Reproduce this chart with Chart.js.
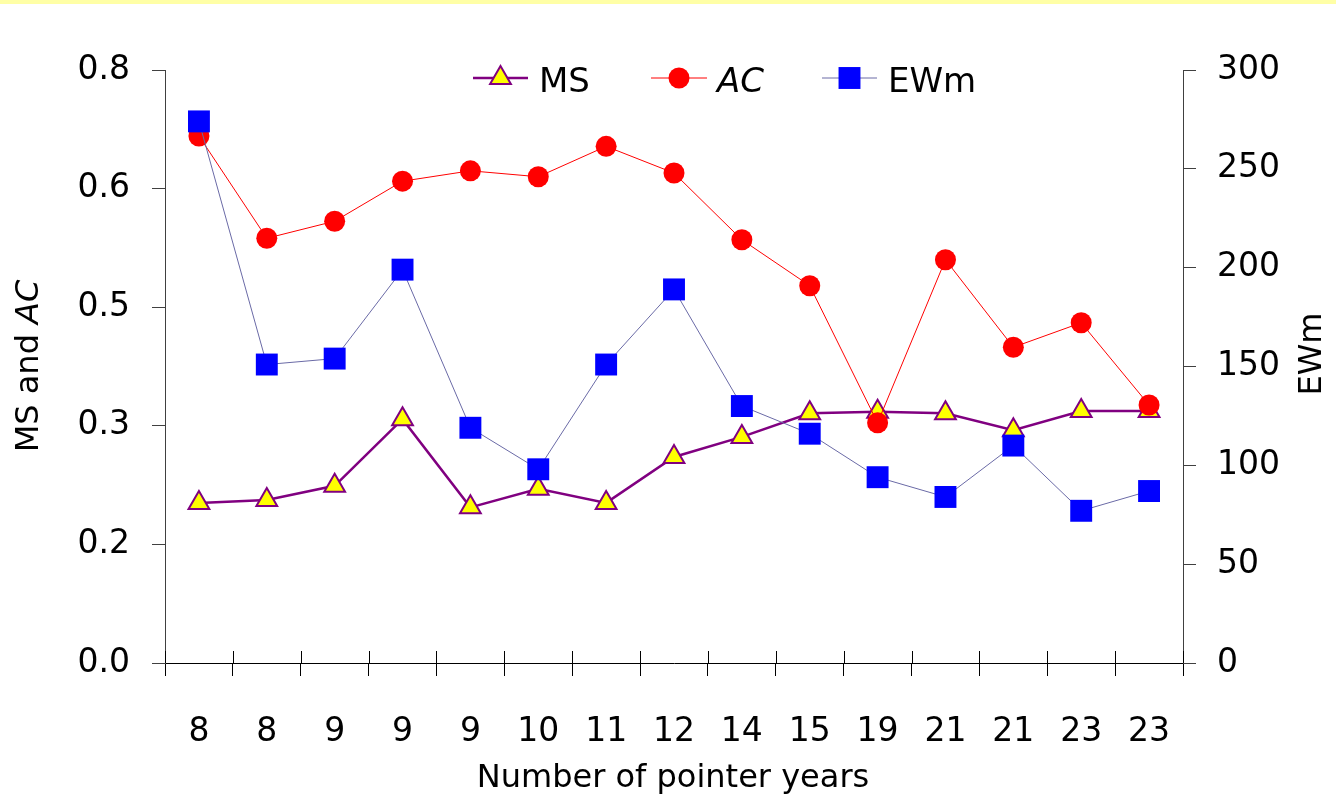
<!DOCTYPE html>
<html>
<head>
<meta charset="utf-8">
<script src="https://cdn.jsdelivr.net/npm/chart.js@4.4.1/dist/chart.umd.min.js"></script>
<style>
    html, body { margin: 0; padding: 0; background: #ffffff; }
    #wrap { position: relative; width: 1336px; height: 802px; }
    #topStrip { position: absolute; left: 0; top: 0; width: 1336px; height: 4px; background: #ffffa6; }
</style>
</head>
<body>
<div id="wrap">
    <canvas id="pointerChart" width="1336" height="802"></canvas>
    <div id="topStrip"></div>
</div>
<script>
// 資料
const categories = ['8', '8', '9', '9', '9', '10', '11', '12', '14', '15', '19', '21', '21', '23', '23'];
const msValues = [0.216, 0.220, 0.239, 0.329, 0.210, 0.235, 0.216, 0.278, 0.305, 0.337, 0.339, 0.337, 0.314, 0.340, 0.340];
const acValues = [0.711, 0.573, 0.596, 0.650, 0.664, 0.656, 0.697, 0.661, 0.571, 0.509, 0.324, 0.544, 0.426, 0.459, 0.348];
const ewmValues = [274, 151, 154, 199, 119, 98, 151, 189, 130, 116, 94, 84, 110, 77, 87];

const leftAxisMin = 0;
const leftAxisMax = 0.8;
const leftAxisStep = 0.16;
const rightAxisMin = 0;
const rightAxisMax = 300;
const rightAxisStep = 50;

const FONT = "'DejaVu Sans', sans-serif";

const seriesStyles = [
    { label: 'MS', italic: false, line: '#800080', lineWidth: 2.5, pointStyle: 'triangle', radius: 12, fill: '#ffff00', border: '#800080', borderWidth: 2 },
    { label: 'AC', italic: true, line: '#ff0000', lineWidth: 1, pointStyle: 'circle', radius: 10.5, fill: '#ff0000', border: '#ff0000', borderWidth: 0 },
    { label: 'EWm', italic: false, line: '#6a6aa6', lineWidth: 1, pointStyle: 'rect', radius: 15.5, fill: '#0000ff', border: '#0000ff', borderWidth: 0 }
];

// 自訂圖例 + 軸標題 + x 軸內側刻度
const decorPlugin = {
    id: 'decor',
    afterDraw(chart) {
        const ctx = chart.ctx;
        const xScale = chart.scales.x;

        // x 軸刻度向上穿過軸線的部分
        ctx.save();
        ctx.strokeStyle = '#000000';
        ctx.lineWidth = 1;
        for (let i = 0; i <= categories.length; i++) {
            const px = Math.round(xScale.getPixelForValue(i - 0.5)) + 0.5;
            ctx.beginPath();
            ctx.moveTo(px, xScale.top);
            ctx.lineTo(px, xScale.top - 12);
            ctx.stroke();
        }
        ctx.restore();

        // 圖例
        const legendPos = [
            { x1: 473, x2: 528, text: 539 },
            { x1: 651, x2: 707, text: 717 },
            { x1: 822, x2: 877, text: 888 }
        ];
        const ly = 78;
        seriesStyles.forEach((s, i) => {
            const p = legendPos[i];
            ctx.save();
            ctx.strokeStyle = s.line;
            ctx.lineWidth = s.lineWidth;
            ctx.beginPath();
            ctx.moveTo(p.x1, ly);
            ctx.lineTo(p.x2, ly);
            ctx.stroke();
            ctx.fillStyle = s.fill;
            ctx.strokeStyle = s.border;
            ctx.lineWidth = s.borderWidth;
            Chart.helpers.drawPoint(ctx, { pointStyle: s.pointStyle, radius: s.radius, rotation: 0, borderWidth: s.borderWidth }, (p.x1 + p.x2) / 2, ly);
            ctx.fillStyle = '#000000';
            ctx.font = (s.italic ? 'italic ' : '') + '34px ' + FONT;
            ctx.textBaseline = 'alphabetic';
            ctx.textAlign = 'left';
            ctx.fillText(s.label, p.text, 92);
            ctx.restore();
        });

        // 左軸標題 "MS and AC"（AC 斜體）
        ctx.save();
        ctx.translate(30, 366);
        ctx.rotate(-Math.PI / 2);
        ctx.fillStyle = '#000000';
        ctx.textBaseline = 'middle';
        ctx.textAlign = 'left';
        const normalFont = '32px ' + FONT;
        const italicFont = 'italic 32px ' + FONT;
        ctx.font = normalFont;
        const w1 = ctx.measureText('MS and ').width;
        ctx.font = italicFont;
        const w2 = ctx.measureText('AC').width;
        const startX = -(w1 + w2) / 2;
        ctx.font = normalFont;
        ctx.fillText('MS and ', startX, 0);
        ctx.font = italicFont;
        ctx.fillText('AC', startX + w1, 0);
        ctx.restore();

        // 右軸標題 "EWm"
        ctx.save();
        ctx.translate(1313, 354);
        ctx.rotate(-Math.PI / 2);
        ctx.fillStyle = '#000000';
        ctx.font = '32px ' + FONT;
        ctx.textBaseline = 'middle';
        ctx.textAlign = 'center';
        ctx.fillText('EWm', 0, 0);
        ctx.restore();

        // x 軸標題
        ctx.save();
        ctx.fillStyle = '#000000';
        ctx.font = '32px ' + FONT;
        ctx.textBaseline = 'middle';
        ctx.textAlign = 'center';
        ctx.fillText('Number of pointer years', 673, 779);
        ctx.restore();
    }
};

function makeDataset(style, data, axis, order) {
    return {
        label: style.label,
        data: data,
        yAxisID: axis,
        order: order,
        borderColor: style.line,
        borderWidth: style.lineWidth,
        backgroundColor: style.fill,
        pointStyle: style.pointStyle,
        pointRadius: style.radius,
        pointHoverRadius: style.radius,
        pointBackgroundColor: style.fill,
        pointBorderColor: style.border,
        pointBorderWidth: style.borderWidth,
        tension: 0,
        fill: false,
        clip: false
    };
}

const ctx = document.getElementById('pointerChart');
new Chart(ctx, {
    type: 'line',
    data: {
        labels: categories,
        datasets: [
            makeDataset(seriesStyles[0], msValues, 'y', 3),
            makeDataset(seriesStyles[1], acValues, 'y', 2),
            makeDataset(seriesStyles[2], ewmValues, 'y1', 1)
        ]
    },
    options: {
        responsive: false,
        animation: false,
        layout: { padding: { top: 70, left: 0, right: 0, bottom: 0 } },
        plugins: {
            legend: { display: false },
            tooltip: { enabled: false }
        },
        scales: {
            x: {
                type: 'category',
                offset: true,
                grid: { offset: true, drawOnChartArea: false, tickLength: 13, color: '#000000', lineWidth: 1 },
                border: { color: '#000000', width: 1 },
                ticks: { color: '#000000', font: { family: FONT, size: 33 }, padding: 37, maxRotation: 0, autoSkip: false },
                afterFit: scale => { scale.height = 139; }
            },
            y: {
                position: 'left',
                min: leftAxisMin,
                max: leftAxisMax,
                grid: { drawOnChartArea: false, tickLength: 13, color: '#404040' },
                border: { color: '#404040', width: 1 },
                ticks: {
                    stepSize: leftAxisStep,
                    color: '#000000',
                    font: { family: FONT, size: 33 },
                    padding: 22,
                    callback: v => Number(v).toFixed(1)
                },
                afterFit: scale => { scale.width = 165; }
            },
            y1: {
                position: 'right',
                min: rightAxisMin,
                max: rightAxisMax,
                grid: { drawOnChartArea: false, tickLength: 13, color: '#404040' },
                border: { color: '#404040', width: 1 },
                ticks: {
                    stepSize: rightAxisStep,
                    color: '#000000',
                    font: { family: FONT, size: 33 },
                    padding: 21
                },
                afterFit: scale => { scale.width = 153; }
            }
        }
    },
    plugins: [decorPlugin]
});
</script>
</body>
</html>
